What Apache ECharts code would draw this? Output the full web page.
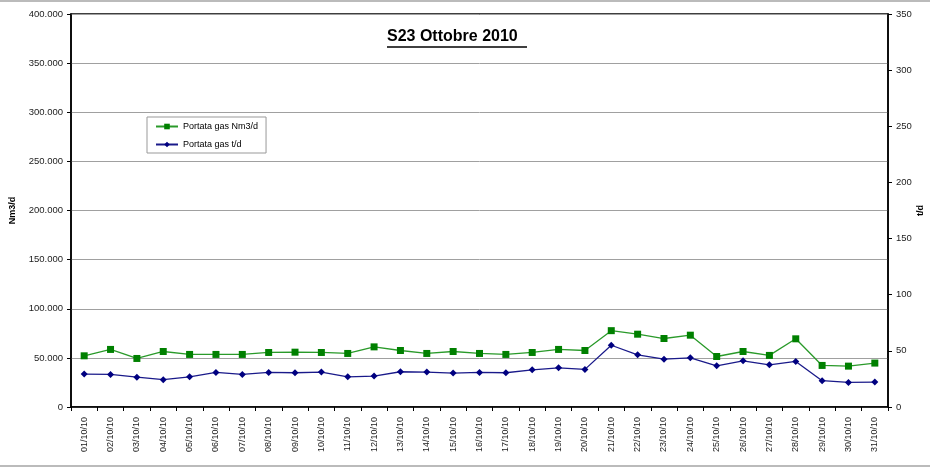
<!DOCTYPE html>
<html>
<head>
<meta charset="utf-8">
<script src="https://cdn.jsdelivr.net/npm/echarts@6/dist/echarts.min.js"></script>
<style>html,body{margin:0;padding:0;background:#fff;}#c{width:930px;height:470px;}</style>
</head>
<body>
<div id="c"></div>
<script>
var categories = ['01/10/10','02/10/10','03/10/10','04/10/10','05/10/10','06/10/10','07/10/10','08/10/10','09/10/10','10/10/10','11/10/10','12/10/10','13/10/10','14/10/10','15/10/10','16/10/10','17/10/10','18/10/10','19/10/10','20/10/10','21/10/10','22/10/10','23/10/10','24/10/10','25/10/10','26/10/10','27/10/10','28/10/10','29/10/10','30/10/10','31/10/10'];
var gasNm3 = [52100,58600,49400,56500,53500,53500,53500,55500,55800,55500,54500,61200,57500,54500,56500,54500,53500,55500,58600,57500,77700,74100,69700,73100,51400,56500,52500,69400,42300,41600,44700];
var gasTd = [29.3,29.0,26.6,24.3,26.9,30.8,29.0,30.8,30.5,31.1,26.9,27.5,31.4,31.1,30.2,30.8,30.5,33.1,34.9,33.5,55.0,46.5,42.6,43.8,36.7,41.1,37.6,40.6,23.4,21.9,22.2];
var seriesNames = ['Portata gas Nm3/d','Portata gas t/d'];
var titleText = 'S23 Ottobre 2010';

function fmtIt(v){ return String(v).replace(/\B(?=(\d{3})+(?!\d))/g,'.'); }

var chart = echarts.init(document.getElementById('c'));
var font = 'Arial, "Liberation Sans", sans-serif';
chart.setOption({
  backgroundColor:'#fff',
  animation:false,
  grid:{left:71,right:42,top:14,bottom:63,show:true,borderColor:'#000',borderWidth:1.5,backgroundColor:'#fff',
        containLabel:false, outerBoundsMode:'none'},
  legend:{
    data:seriesNames, orient:'vertical', left:147, top:117,
    backgroundColor:'#fff', borderColor:'#999', borderWidth:1, padding:[5,8,4,8],
    itemGap:9, itemWidth:22, itemHeight:7,
    textStyle:{fontSize:9, fontFamily:font, color:'#000'}
  },
  graphic:[
    {type:'text', left:387, top:29, style:{text:titleText, font:'bold 16px '+font, fill:'#000'}},
    {type:'line', shape:{x1:387,y1:47,x2:527,y2:47}, style:{stroke:'#000',lineWidth:1.5}},
    {type:'line', shape:{x1:0,y1:1,x2:930,y2:1}, style:{stroke:'#bbb',lineWidth:2}},
    {type:'line', shape:{x1:0,y1:466,x2:930,y2:466}, style:{stroke:'#bbb',lineWidth:2}}
  ],
  xAxis:{
    type:'category', data:categories, boundaryGap:true,
    axisLine:{lineStyle:{color:'#000',width:1.5}},
    axisTick:{show:true,inside:false,length:4,lineStyle:{color:'#000'},alignWithLabel:false},
    axisLabel:{rotate:90, fontSize:9, fontFamily:font, color:'#222', margin:10, interval:0}
  },
  yAxis:[
    {type:'value', min:0, max:400000, interval:50000, position:'left',
     name:'Nm3/d', nameLocation:'middle', nameGap:54, nameMoveOverlap:false,
     nameTextStyle:{fontSize:9, fontWeight:'bold', fontFamily:font, color:'#000'},
     axisLine:{show:true,lineStyle:{color:'#000',width:1.5}},
     axisTick:{show:true,length:4,lineStyle:{color:'#000'}},
     axisLabel:{fontSize:9.5, fontFamily:font, color:'#222', margin:8, formatter:fmtIt},
     splitLine:{show:true,lineStyle:{color:'#a0a0a0',width:1}}
    },
    {type:'value', min:0, max:350, interval:50, position:'right',
     name:'t/d', nameLocation:'middle', nameGap:28, nameRotate:90, nameMoveOverlap:false,
     nameTextStyle:{fontSize:9, fontWeight:'bold', fontFamily:font, color:'#000'},
     axisLine:{show:true,lineStyle:{color:'#000',width:1.5}},
     axisTick:{show:true,length:4,lineStyle:{color:'#000'}},
     axisLabel:{fontSize:9.5, fontFamily:font, color:'#222', margin:8},
     splitLine:{show:false}
    }
  ],
  series:[
    {name:seriesNames[0], type:'line', yAxisIndex:0, data:gasNm3,
     symbol:'rect', symbolSize:7, showSymbol:true,
     itemStyle:{color:'#008000'}, lineStyle:{color:'#2a9a2a',width:1.3}},
    {name:seriesNames[1], type:'line', yAxisIndex:1, data:gasTd,
     symbol:'diamond', symbolSize:7, showSymbol:true,
     itemStyle:{color:'#000080'}, lineStyle:{color:'#1a1a8a',width:1.3}}
  ]
});
</script>
</body>
</html>
